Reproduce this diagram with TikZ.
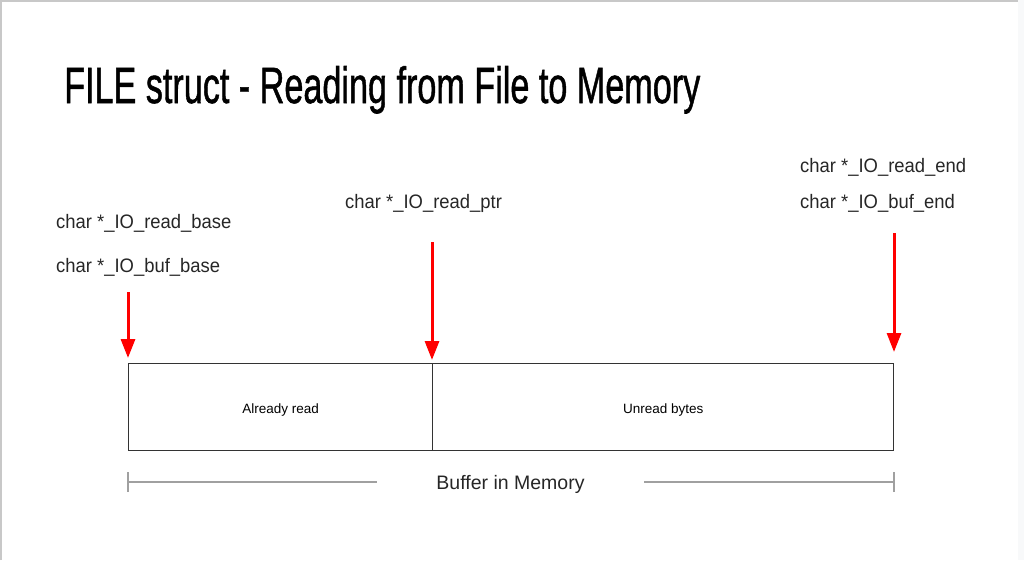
\documentclass[tikz,border=0pt]{standalone}
\usepackage{fontspec}
\setmainfont{Liberation Sans}
\newfontfamily\titlefont[FakeBold=1.2]{Liberation Sans}
\usetikzlibrary{arrows.meta}
\definecolor{labelc}{HTML}{262626}
\definecolor{boxc}{HTML}{333333}
\definecolor{dimc}{HTML}{A0A0A0}
\definecolor{framec}{HTML}{C8C8C8}
\definecolor{sidec}{HTML}{F8F9FA}
\definecolor{arrred}{HTML}{FF0000}
\begin{document}
\begin{tikzpicture}[x=1pt,y=-1pt,
  ptrlabel/.style={anchor=base west,inner sep=0pt,text=labelc,
    font=\fontsize{19.5}{22}\selectfont},
  ptrarrow/.style={draw=arrred,line width=3pt,
    -{Triangle[width=14pt,length=19pt]}},
  cell/.style={draw=boxc,line width=1.3pt,minimum height=87pt,inner sep=0pt,
    anchor=north west},
  celltext/.style={inner sep=0pt,font=\fontsize{13.5}{16}\selectfont,text=black},
  dimline/.style={draw=dimc,line width=1.2pt}]
\useasboundingbox (0,0) rectangle (1024,560);
\fill[sidec] (1018,0) rectangle (1024,560);
\draw[framec,line width=1.5pt] (1,560) -- (1,1) -- (1018,1);
% title
\node[anchor=base west,inner sep=0pt] (title) at (64,103)
  {\resizebox{636pt}{37pt}{\titlefont FILE struct - Reading from File to Memory}};
% labels
\node[ptrlabel] (lrb) at (56,228) {\scalebox{0.945}[1]{char *\_IO\_read\_base}};
\node[ptrlabel] (lbb) at (56,272) {\scalebox{0.945}[1]{char *\_IO\_buf\_base}};
\node[ptrlabel] (lrp) at (345,208) {\scalebox{0.945}[1]{char *\_IO\_read\_ptr}};
\node[ptrlabel] (lre) at (800,172) {\scalebox{0.945}[1]{char *\_IO\_read\_end}};
\node[ptrlabel] (lbe) at (800,208) {\scalebox{0.945}[1]{char *\_IO\_buf\_end}};
% buffer cells
\node[cell,minimum width=304pt] (read) at (128,363) {};
\node[cell,minimum width=461pt] (unread) at (432,363) {};
\node[celltext] (readtxt) at ([yshift=-3pt]read.center) {Already read};
\node[celltext] (unreadtxt) at ([yshift=-3pt]unread.center) {Unread bytes};
% arrows
\coordinate (a1s) at (128,292);
\coordinate (a2s) at (432,242);
\coordinate (a3s) at (894,233);
\coordinate (a1e) at (128,358);
\coordinate (a2e) at (432,360);
\coordinate (a3e) at (894,352);
\draw[ptrarrow] (a1s) -- (a1e);
\draw[ptrarrow] (a2s) -- (a2e);
\draw[ptrarrow] (a3s) -- (a3e);
% dimension line
\node[inner sep=0pt,anchor=base,font=\fontsize{19.5}{22}\selectfont,text=labelc]
  (buf) at (510.5,489) {Buffer in Memory};
\coordinate (d1) at (128,482);
\coordinate (d1e) at (377,482);
\coordinate (d2s) at (644,482);
\coordinate (d2) at (894,482);
\draw[dimline] (d1) -- (d1e);
\draw[dimline] (d2s) -- (d2);
\draw[dimline] ([yshift=-10pt]d1) -- ([yshift=10pt]d1);
\draw[dimline] ([yshift=-10pt]d2) -- ([yshift=10pt]d2);
\end{tikzpicture}
\end{document}
